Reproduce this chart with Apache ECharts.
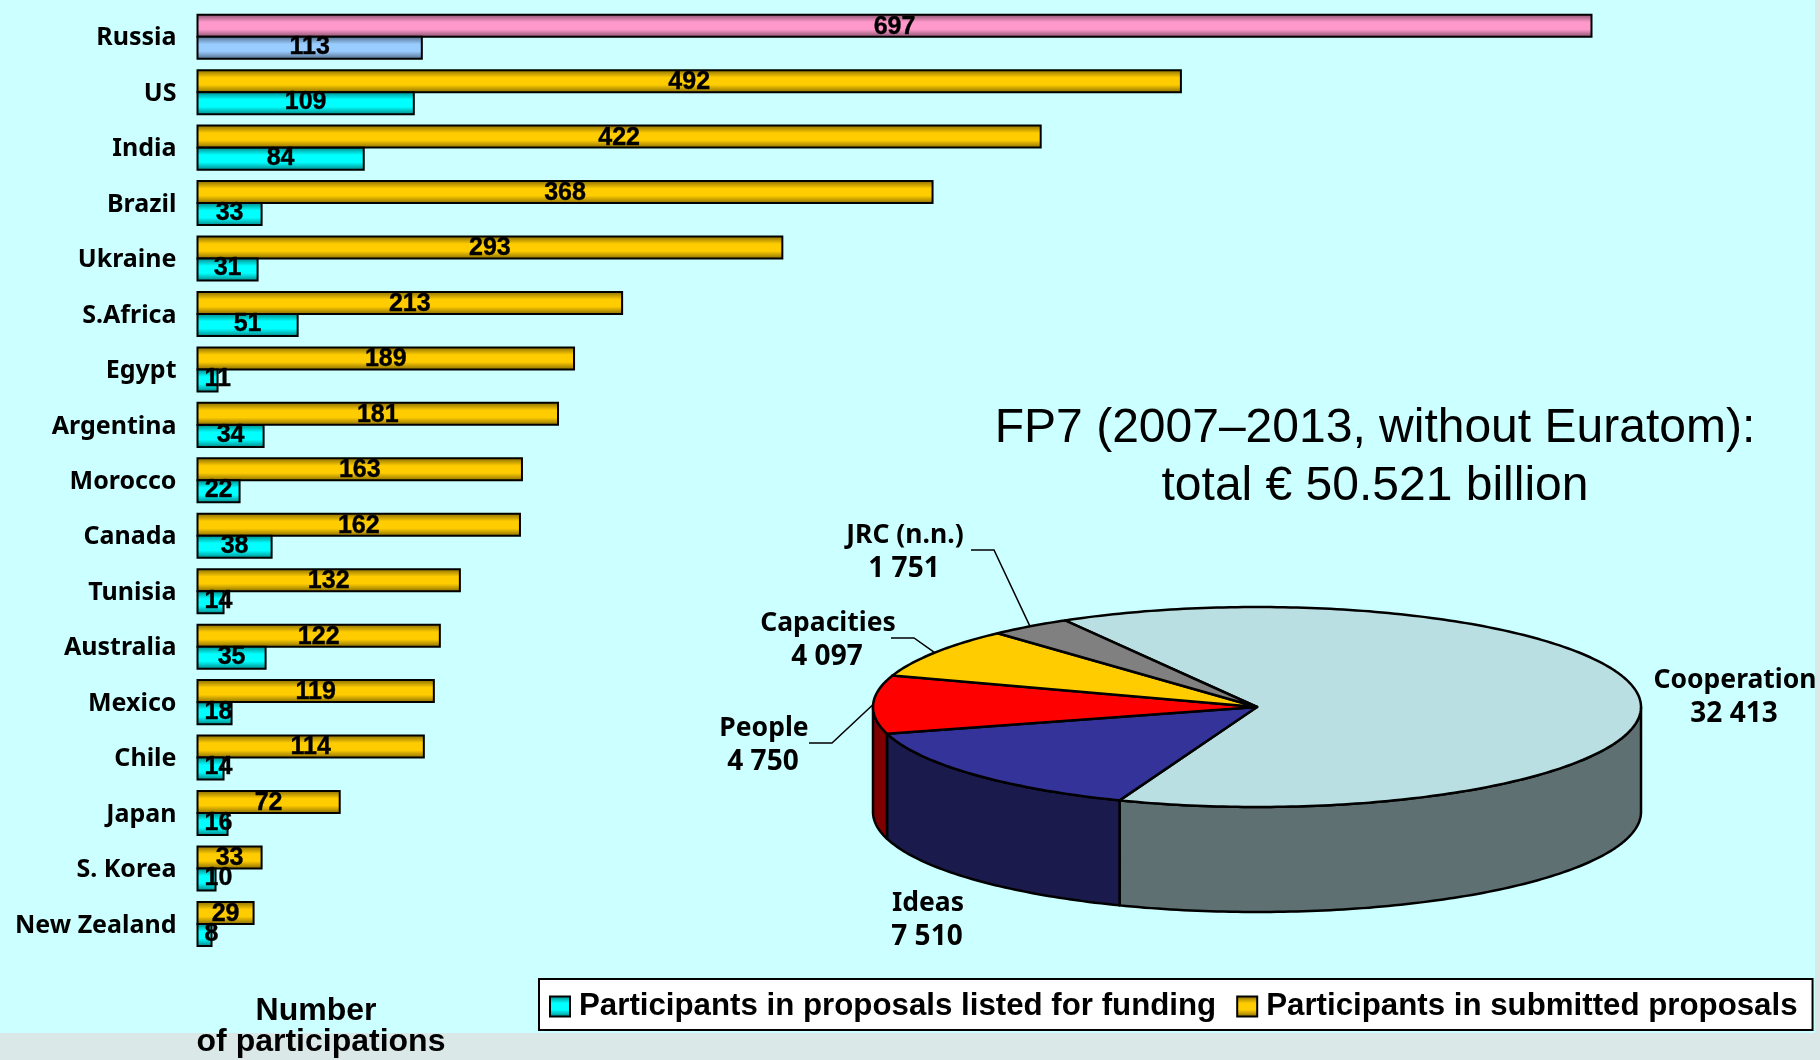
<!DOCTYPE html>
<html>
<head>
<meta charset="utf-8">
<script src="https://cdn.jsdelivr.net/npm/echarts@6/dist/echarts.min.js"></script>
<style>html,body{margin:0;padding:0;background:#DAE8E8}#c{width:1820px;height:1060px}</style>
</head>
<body>
<div id="c"></div>
<script>
const countries = ['Russia','US','India','Brazil','Ukraine','S.Africa','Egypt','Argentina','Morocco','Canada','Tunisia','Australia','Mexico','Chile','Japan','S. Korea','New Zealand'];
const submitted = [697,492,422,368,293,213,189,181,163,162,132,122,119,114,72,33,29];
const listed = [113,109,84,33,31,51,11,34,22,38,14,35,18,14,16,10,8];
const submittedName = 'Participants in submitted proposals';
const listedName = 'Participants in proposals listed for funding';

const pieNames = ['Cooperation','Ideas','People','Capacities','JRC (n.n.)'];
const pieValues = [32413,7510,4750,4097,1751];
const pieTopColors = ['#B9DFE2','#333399','#FF0000','#FFCC00','#808080'];
const pieSideColors = ['#5F7073','#1A1A4C','#7F0000','#7F6600','#404040'];

const titleLines = 'FP7 (2007–2013, without Euratom):\ntotal € 50.521 billion';
const axisTitleLines = ['Number','of participations'];

// layout of the projected pie
const PIE = {cx:1257, cy:707, rx:384, ry:100, depth:105, start:240};
// label anchor (x, y of the first line) and leader elbow, by slice
const PIE_LABELS = [
  {x:1735,y:680},
  {x:928,y:903},
  {x:764,y:728,from:[809,743],elbow:[832,743]},
  {x:828,y:623,from:[891,638],elbow:[914,638]},
  {x:905,y:535,from:[971,550],elbow:[994,550]}
];

const pieTotal = pieValues.reduce((a,b)=>a+b,0);
function pt(deg, dy){
  const r = deg*Math.PI/180;
  return [PIE.cx+PIE.rx*Math.cos(r), PIE.cy+PIE.ry*Math.sin(r)+(dy||0)];
}
function fmt(v){ return String(v).replace(/\B(?=(\d{3})+$)/g,' '); }
function vgrad(dark, bright){
  return new echarts.graphic.LinearGradient(0,0,0,1,[
    {offset:0,color:dark},{offset:0.35,color:bright},{offset:0.65,color:bright},{offset:1,color:dark}
  ]);
}
const lineStyle = {stroke:'#000',lineWidth:2.5,lineJoin:'round'};

function renderPie(params, api){
  const i = params.dataIndex;
  let before = 0;
  for(let k=0;k<i;k++) before += pieValues[k];
  const a0 = PIE.start + before/pieTotal*360;
  const a1 = a0 + api.value(0)/pieTotal*360;
  const children = [];
  [[0,180],[360,540]].forEach(function(w){
    const s = Math.max(a0,w[0]), e = Math.min(a1,w[1]);
    if(e>s){
      const top=[], bot=[];
      for(let t=s;t<e;t+=1){top.push(pt(t));bot.push(pt(t,PIE.depth));}
      top.push(pt(e));bot.push(pt(e,PIE.depth));
      children.push({type:'polygon',shape:{points:top.concat(bot.reverse())},
        style:Object.assign({fill:pieSideColors[i]},lineStyle),z2:1});
    }
  });
  const pts=[[PIE.cx,PIE.cy]];
  for(let t=a0;t<a1;t+=1) pts.push(pt(t));
  pts.push(pt(a1));
  children.push({type:'polygon',shape:{points:pts},
    style:Object.assign({fill:pieTopColors[i]},lineStyle),z2:2});
  const L = PIE_LABELS[i];
  if(L.from){
    children.push({type:'polyline',shape:{points:[L.from,L.elbow,pt((a0+a1)/2)]},
      style:{stroke:'#000',lineWidth:1.5,fill:null},z2:3});
  }
  children.push({type:'text',z2:4,style:{text:pieNames[i],x:L.x,y:L.y,font:'bold 26.5px "Noto Sans"',fill:'#000',align:'center',verticalAlign:'middle'}});
  children.push({type:'text',z2:4,style:{text:fmt(api.value(0)),x:L.x-1,y:L.y+34,font:'bold 28px "Noto Sans"',fill:'#000',align:'center',verticalAlign:'middle'}});
  return {type:'group',children:children};
}

const labelBase = {show:true,color:'#000',fontFamily:'Liberation Sans',fontWeight:'bold',fontSize:25,textBorderColor:'#000',textBorderWidth:0.4};
function barLabel(dy){ return Object.assign({position:'inside',offset:[0,dy]},labelBase); }
// labels too wide for their bar start just inside the bar's left end
function barItem(v, style){
  const item = {value:v};
  if(style) item.itemStyle = style;
  if(v*2 < String(v).length*14+16) item.label = {position:'insideLeft',distance:8};
  return item;
}
const goldStyle = {color:vgrad('#7F6600','#FFCC00'),borderColor:'#000',borderWidth:2};
const cyanStyle = {color:vgrad('#007F7F','#00FFFF'),borderColor:'#000',borderWidth:2};
const pinkStyle = {color:vgrad('#7F4C66','#FF99CC'),borderColor:'#000',borderWidth:2};
const blueStyle = {color:vgrad('#4C667F','#99CCFF'),borderColor:'#000',borderWidth:2};

const option = {
  animation:false,
  backgroundColor:'#DAE8E8',
  graphic:[
    {type:'rect',z:-10,silent:true,shape:{x:0,y:0,width:1815,height:1033},style:{fill:'#CCFFFF'}},
    {type:'text',z:5,style:{text:titleLines,x:1375,y:458,font:'48px "Liberation Sans"',fill:'#000',align:'center',verticalAlign:'middle',lineHeight:58}},
    {type:'text',z:5,style:{text:axisTitleLines[0],x:316,y:1011,font:'bold 32px "Liberation Sans"',fill:'#000',align:'center',verticalAlign:'middle'}},
    {type:'text',z:5,style:{text:axisTitleLines[1],x:321,y:1042,font:'bold 32px "Liberation Sans"',fill:'#000',align:'center',verticalAlign:'middle'}}
  ],
  grid:{left:196.5,top:9,width:1402,height:942.65,containLabel:false},
  xAxis:{type:'value',min:0,max:700,show:false},
  yAxis:{type:'category',inverse:true,data:countries,
    axisLine:{show:false},axisTick:{show:false},
    axisLabel:{margin:20,color:'#000',fontFamily:'Noto Sans',fontWeight:'bold',fontSize:25,interval:0,
      formatter:'{a|{value}}',
      rich:{a:{color:'#000',fontFamily:'Noto Sans',fontWeight:'bold',fontSize:25,padding:[3,0,0,0]}}}},
  legend:{
    data:[listedName,submittedName],
    left:539,top:979,
    backgroundColor:'#fff',borderColor:'#000',borderWidth:2,borderRadius:0,
    padding:[12,15,8,10],icon:'rect',
    itemGap:20,itemWidth:20,itemHeight:20,
    itemStyle:{borderColor:'#000',borderWidth:2},
    textStyle:{color:'#000',fontFamily:'Liberation Sans',fontWeight:'bold',fontSize:31.25,padding:[5,0,0,4]}
  },
  series:[
    {name:submittedName,type:'bar',barWidth:24,barGap:'-8.33%',
     itemStyle:goldStyle,label:barLabel(1),
     data:submitted.map((v,i)=>barItem(v,i===0?pinkStyle:null))},
    {name:listedName,type:'bar',barWidth:24,barGap:'-8.33%',
     itemStyle:cyanStyle,label:barLabel(-1),
     data:listed.map((v,i)=>barItem(v,i===0?blueStyle:null))},
    {type:'custom',coordinateSystem:'none',renderItem:renderPie,silent:true,z:3,
     data:pieValues.map(v=>[v])}
  ]
};
const chart = echarts.init(document.getElementById('c'));
chart.setOption(option);
</script>
</body>
</html>
